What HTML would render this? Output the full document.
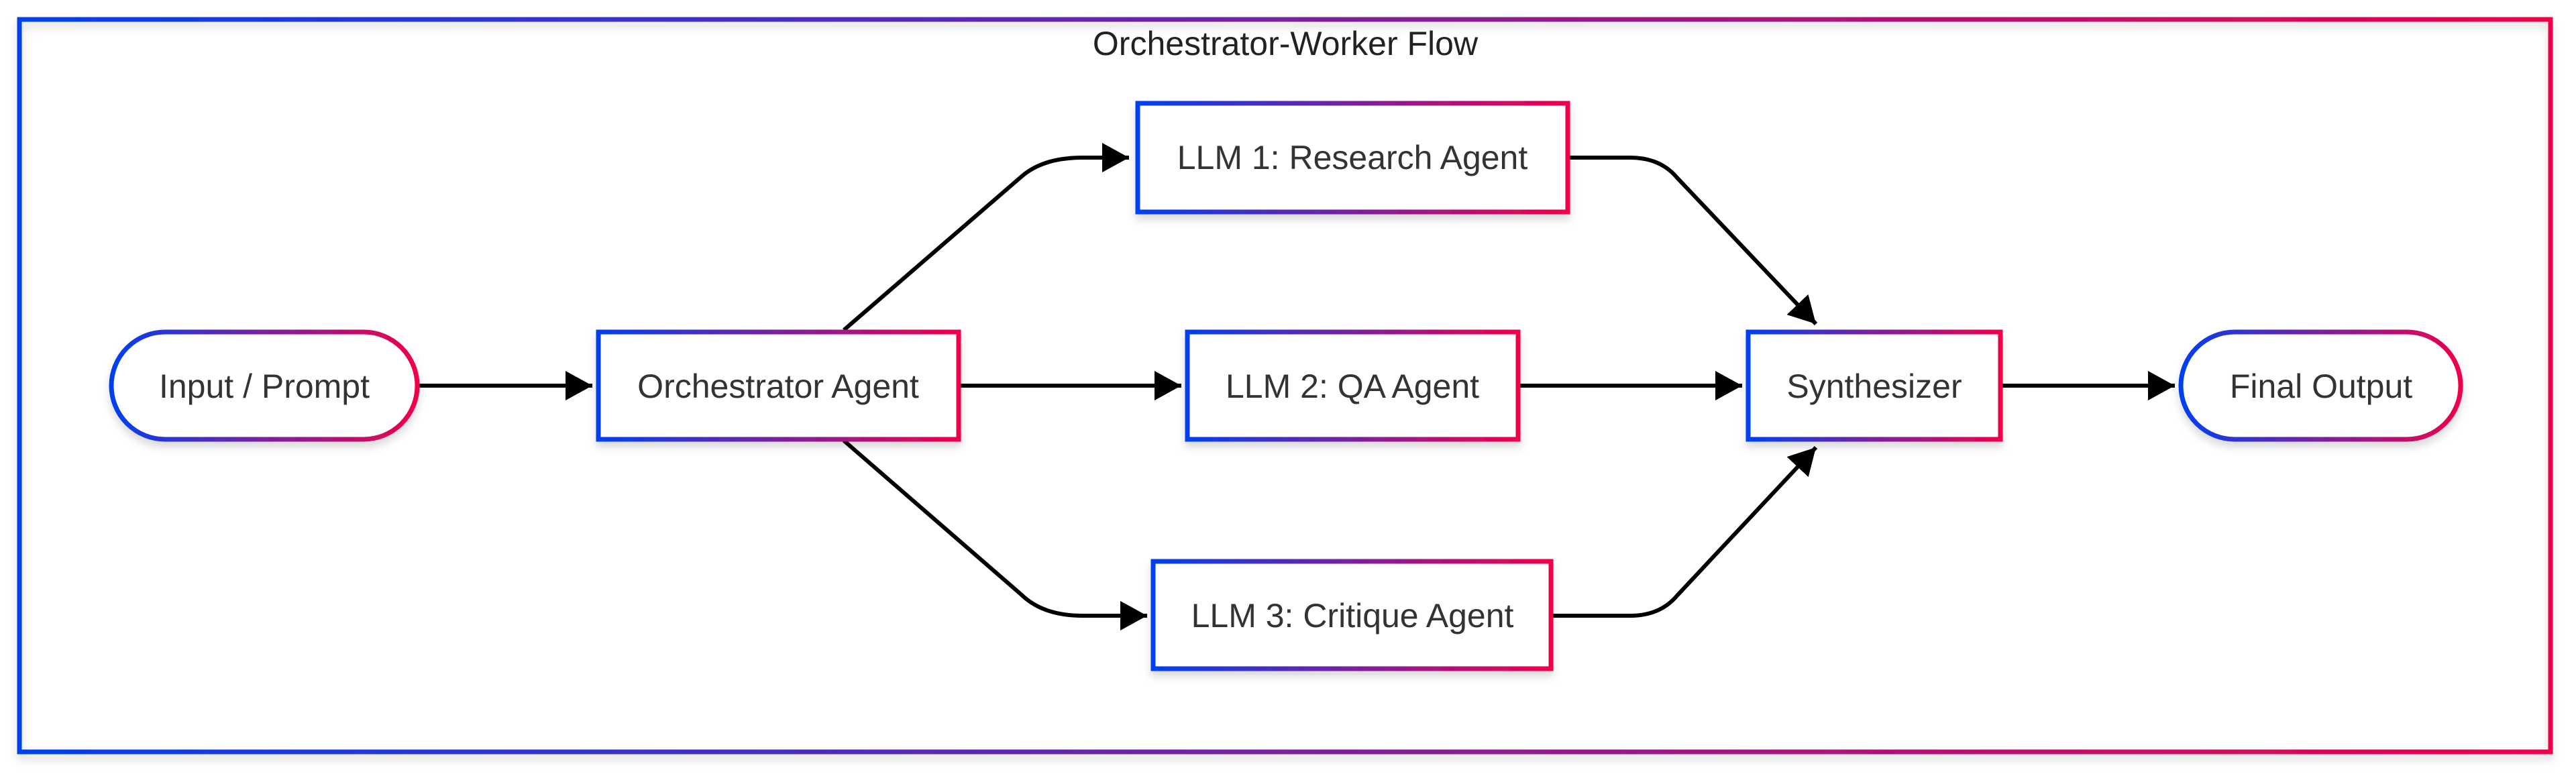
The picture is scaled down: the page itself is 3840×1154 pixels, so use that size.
<!DOCTYPE html>
<html><head><meta charset="utf-8"><style>
html,body{margin:0;padding:0;background:#fff;}
svg{display:block;}
text{font-family:"Liberation Sans",Arial,sans-serif;fill:#333;}
</style></head><body>
<svg width="3840" height="1154" viewBox="0 0 3840 1154" xmlns="http://www.w3.org/2000/svg">
<defs>
<linearGradient id="g" x1="0" y1="0" x2="1" y2="0">
<stop offset="0" stop-color="#0040f0"/><stop offset="0.5" stop-color="#7a20a0"/><stop offset="1" stop-color="#f0004a"/>
</linearGradient>
<filter id="sh" x="-10%" y="-10%" width="120%" height="130%">
<feDropShadow dx="0" dy="8" stdDeviation="6" flood-color="#000" flood-opacity="0.15"/>
</filter>
<marker id="ar" markerUnits="userSpaceOnUse" markerWidth="44" markerHeight="48" refX="40" refY="22" orient="auto">
<path d="M0,0 L40,22 L0,44 Z" fill="#000"/>
</marker>
</defs>
<rect x="29" y="29" width="3773" height="1092" fill="none" stroke="url(#g)" stroke-width="7" filter="url(#sh)"/>
<text x="1916" y="82" font-size="50" text-anchor="middle" style="fill:#222">Orchestrator-Worker Flow</text>

<g fill="none" stroke="#000" stroke-width="6">
<path d="M624,575 L883,575" marker-end="url(#ar)"/>
<path d="M1258,492 L1523,263 Q1555,235 1614,235 L1683,235" marker-end="url(#ar)"/>
<path d="M1431,575 L1761,575" marker-end="url(#ar)"/>
<path d="M1258,657 L1523,887 Q1555,918 1614,918 L1710,918" marker-end="url(#ar)"/>
<path d="M2340,235 L2430,235 Q2475,235 2500,265 L2707,483" marker-end="url(#ar)"/>
<path d="M2265,575 L2597,575" marker-end="url(#ar)"/>
<path d="M2314,918 L2430,918 Q2475,918 2500,888 L2707,667" marker-end="url(#ar)"/>
<path d="M2984,575 L3242,575" marker-end="url(#ar)"/>
</g>

<g fill="#fff" stroke="url(#g)" stroke-width="7" filter="url(#sh)">
<rect x="166" y="495" width="456" height="160" rx="80"/>
<rect x="892" y="495" width="537" height="160"/>
<rect x="1696" y="154" width="641" height="162"/>
<rect x="1770" y="495" width="493" height="160"/>
<rect x="1719" y="837" width="593" height="160"/>
<rect x="2606" y="495" width="376" height="160"/>
<rect x="3251" y="495" width="417" height="160" rx="80"/>
</g>

<g font-size="50" text-anchor="middle">
<text x="394" y="593">Input / Prompt</text>
<text x="1160" y="593">Orchestrator Agent</text>
<text x="2016" y="252">LLM 1: Research Agent</text>
<text x="2016" y="593">LLM 2: QA Agent</text>
<text x="2016" y="935">LLM 3: Critique Agent</text>
<text x="2794" y="593">Synthesizer</text>
<text x="3460" y="593">Final Output</text>
</g>
</svg>
</body></html>
